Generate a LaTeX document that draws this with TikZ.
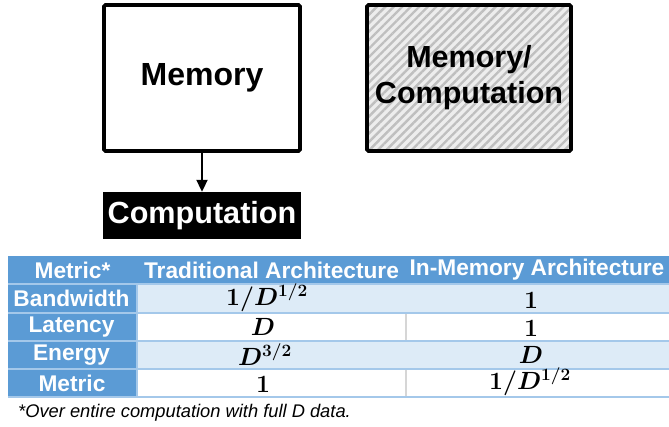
\documentclass[tikz,border=0pt]{standalone}
\usepackage{fontspec}
\setmainfont{Liberation Sans}
\usetikzlibrary{arrows.meta,patterns.meta}

\definecolor{hdrblue}{HTML}{5B9BD5}
\definecolor{rowblue}{HTML}{DDEBF7}
\definecolor{gridblue}{HTML}{A4C8EA}
\definecolor{sepgray}{HTML}{D6D6D6}

\tikzset{
  bigbox/.style={draw=black, line width=3.6pt, rounded corners=1.5pt,
    inner sep=0pt, align=center, font=\fontsize{32}{36}\selectfont\bfseries},
  hdrtext/.style={inner sep=0pt, text=white, font=\fontsize{22.7}{26}\selectfont\bfseries},
  valtext/.style={inner sep=0pt, text=black, font=\fontsize{23}{26}\selectfont\boldmath},
  gridline/.style={draw=gridblue, line width=1.6pt},
}

\begin{document}
\begin{tikzpicture}[x=1pt, y=-1pt]
\useasboundingbox (0,0) rectangle (669,426);

% --- conventional architecture: memory feeding a separate compute unit
\node[bigbox, fill=white, minimum width=196pt, minimum height=146pt]
  (mem) at (202,78) {Memory};
\node[fill=black, text=white, inner sep=0pt, minimum width=198pt, minimum height=47pt,
  font=\fontsize{30.6}{34}\selectfont\bfseries] (comp) at (202,215.5) {Computation};
\draw[line width=2pt, -{Triangle[length=12pt,width=11pt]}] (mem.south) -- (comp.north);

% --- in-memory architecture: one hatched block
\node[bigbox, minimum width=204pt, minimum height=146pt,
  preaction={fill=gray!14},
  pattern={Lines[angle=45,distance=6pt,line width=2.4pt]}, pattern color=gray!50,
  font=\fontsize{30.5}{36}\selectfont\bfseries]
  (imc) at (469,78) {Memory/\\Computation};

% --- comparison table: row backgrounds
\fill[hdrblue] (8,256) rectangle (669,284);
\fill[rowblue] (137,284) rectangle (669,313);
\fill[white]   (137,313) rectangle (669,341);
\fill[rowblue] (137,341) rectangle (669,369);
\fill[white]   (137,369) rectangle (669,397);
\fill[hdrblue] (8,284) rectangle (137,397);

% grid
\foreach \yy in {284,313,341,369,397} \draw[gridline] (8,\yy) -- (669,\yy);
\draw[gridline] (137,284) -- (137,397);
\draw[draw=sepgray, line width=1.5pt] (406,314) -- (406,340);
\draw[draw=sepgray, line width=1.5pt] (406,370) -- (406,396);

% header
\node[hdrtext] (h1) at (72.5,270) {Metric*};
\node[hdrtext] (h2) at (271.5,270) {Traditional Architecture};
\node[hdrtext] (h3) at (537,270) {In-Memory Architecture};

% row labels
\node[hdrtext] (r1) at (71.5,298.5) {Bandwidth};
\node[hdrtext] (r2) at (71.5,327) {Latency};
\node[hdrtext] (r3) at (71.5,355) {Energy};
\node[hdrtext] (r4) at (72,383) {Metric};

% values
\node[valtext] (t1) at (267,298) {$1/D^{1/2}$};
\node[valtext] (m1) at (531,300) {$1$};
\node[valtext] (t2) at (263,327) {$D$};
\node[valtext] (m2) at (531,328) {$1$};
\node[valtext] (t3) at (265,354.5) {$D^{3/2}$};
\node[valtext] (m3) at (531,355) {$D$};
\node[valtext] (t4) at (263,384) {$1$};
\node[valtext] (m4) at (530,382) {$1/D^{1/2}$};

% footnote
\node[anchor=base west, inner sep=0pt, font=\fontsize{18.3}{22}\selectfont\itshape]
  (note) at (18,417) {*Over entire computation with full D data.};
\end{tikzpicture}
\end{document}
